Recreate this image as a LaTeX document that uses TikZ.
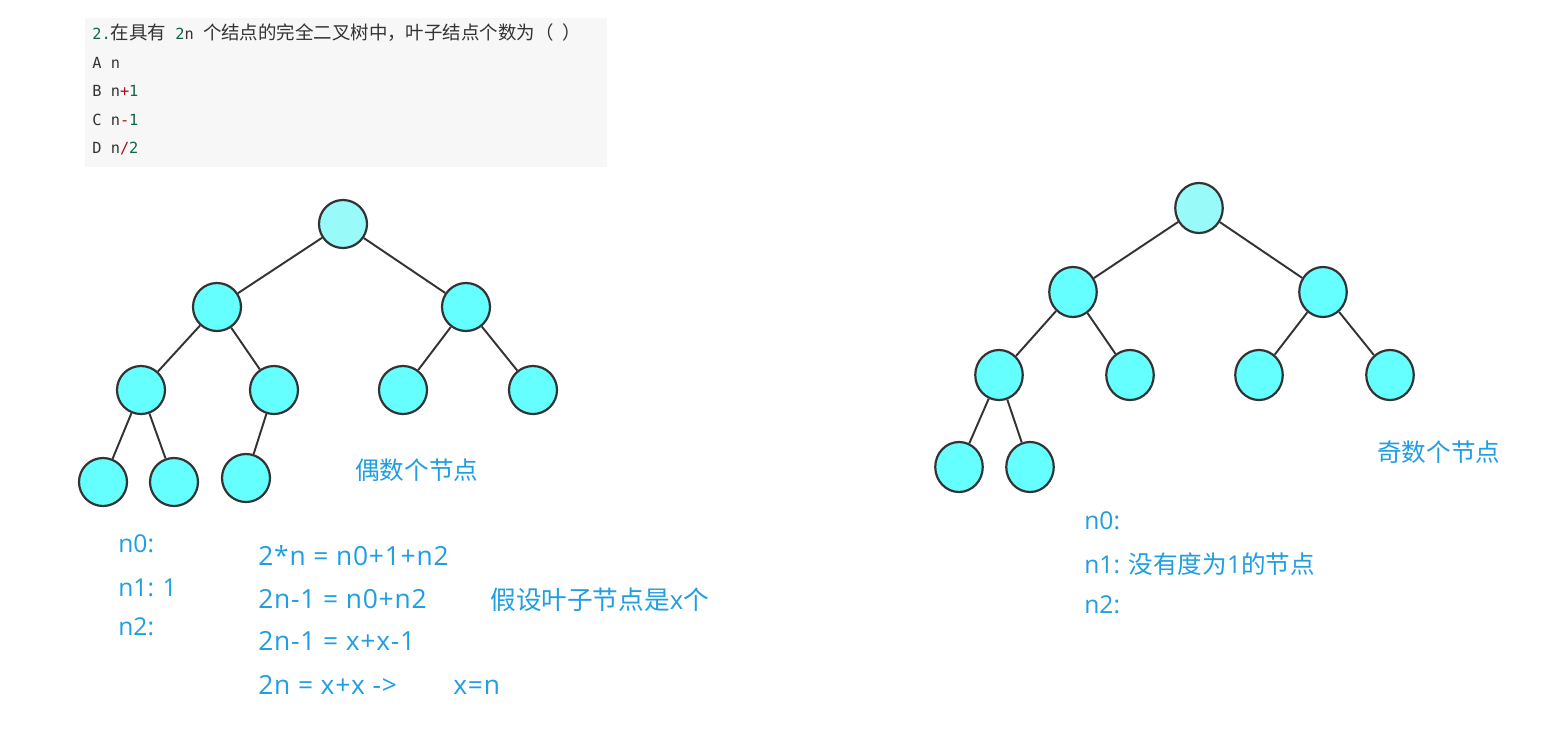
\documentclass[tikz,border=0pt]{standalone}
\definecolor{noteblue}{RGB}{32, 158, 226}
\definecolor{numgreen}{RGB}{17, 102, 68}
\definecolor{opred}{RGB}{170, 17, 17}
\definecolor{codegray}{RGB}{51, 51, 51}
\definecolor{boxgray}{RGB}{247, 247, 247}
\definecolor{nodecyan}{RGB}{102, 255, 255}
\definecolor{rootcyan}{RGB}{153, 250, 250}
\definecolor{edgegray}{RGB}{51, 51, 51}
\usepackage{fontspec}
\newfontfamily\cjkfont{Noto Sans CJK SC}
\newfontfamily\notefont{Open Sans}
\newfontfamily\codefont[Scale=0.83]{DejaVu Sans Mono}
\newcommand{\zh}[1]{{\cjkfont #1}}
\usepackage{tikz}
\usetikzlibrary{shapes.geometric}

\begin{document}
\begin{tikzpicture}[
    treenode/.style={circle, draw=edgegray, line width=1.25pt, fill=nodecyan, minimum size=0.96cm, inner sep=0pt},
    rootnode/.style={treenode, fill=rootcyan},
    oddnode/.style={ellipse, draw=edgegray, line width=1.25pt, fill=nodecyan, minimum width=0.95cm, minimum height=1.0cm, inner sep=0pt},
    oddroot/.style={oddnode, fill=rootcyan},
    edge/.style={draw=edgegray, line width=1.1pt},
    codeline/.style={anchor=base west, inner sep=0pt, text=codegray, font=\codefont\fontsize{10.5}{12}\selectfont},
    note/.style={anchor=base west, inner sep=0pt, text=noteblue, font=\notefont\fontsize{14}{16}\selectfont},
    eqline/.style={note, font=\notefont\fontsize{15}{17}\selectfont\addfontfeature{LetterSpace=3}}
  ]
  \useasboundingbox[fill=white] (0, 0) rectangle (31.06, -14.66);

  % Question box
  \node[fill=boxgray, inner sep=0pt, minimum width=10.44cm, minimum height=2.98cm, anchor=north west] (qbox) at (1.70, -0.36) {};
  \node[codeline] (qtext) at (1.84, -0.79) {{\color{numgreen}2.}\zh{在具有} {\color{numgreen}2}n \zh{个结点的完全二叉树中，叶子结点个数为（} \zh{）}};
  \node[codeline] (optA) at (1.84, -1.36) {A n};
  \node[codeline] (optB) at (1.84, -1.93) {B n{\color{opred}+}{\color{numgreen}1}};
  \node[codeline] (optC) at (1.84, -2.50) {C n{\color{opred}-}{\color{numgreen}1}};
  \node[codeline] (optD) at (1.84, -3.07) {D n{\color{opred}/}{\color{numgreen}2}};

  % Even tree
  \node[rootnode] (eroot) at (6.86, -4.48) {};
  \node[treenode] (ea) at (4.34, -6.14) {};
  \node[treenode] (eb) at (9.32, -6.14) {};
  \node[treenode] (ec) at (2.82, -7.80) {};
  \node[treenode] (ed) at (5.48, -7.80) {};
  \node[treenode] (ee) at (8.06, -7.80) {};
  \node[treenode] (ef) at (10.66, -7.80) {};
  \node[treenode] (eg) at (2.06, -9.64) {};
  \node[treenode] (eh) at (3.48, -9.64) {};
  \node[treenode] (ei) at (4.92, -9.56) {};
  \draw[edge] (eroot) -- (ea) (eroot) -- (eb)
    (ea) -- (ec) (ea) -- (ed) (eb) -- (ee) (eb) -- (ef)
    (ec) -- (eg) (ec) -- (eh) (ed) -- (ei);

  \node[note, anchor=west] (evenlabel) at (7.10, -9.40) {\zh{偶数个节点}};

  % Odd tree
  \node[oddroot] (oroot) at (23.98, -4.16) {};
  \node[oddnode] (oa) at (21.46, -5.84) {};
  \node[oddnode] (ob) at (26.46, -5.84) {};
  \node[oddnode] (oc) at (19.98, -7.50) {};
  \node[oddnode] (od) at (22.60, -7.50) {};
  \node[oddnode] (oe) at (25.18, -7.50) {};
  \node[oddnode] (of) at (27.80, -7.50) {};
  \node[oddnode] (og) at (19.18, -9.34) {};
  \node[oddnode] (oh) at (20.60, -9.34) {};
  \draw[edge] (oroot) -- (oa) (oroot) -- (ob)
    (oa) -- (oc) (oa) -- (od) (ob) -- (oe) (ob) -- (of)
    (oc) -- (og) (oc) -- (oh);

  \node[note, anchor=west] (oddlabel) at (27.54, -9.04) {\zh{奇数个节点}};

  % Even case working
  \node[note] (en0) at (2.36, -11.04) {n0:};
  \node[note] (en1) at (2.36, -11.92) {n1: 1};
  \node[note] (en2) at (2.36, -12.70) {n2:};
  \node[eqline] (eq1) at (5.16, -11.30) {2*n = n0+1+n2};
  \node[eqline] (eq2) at (5.16, -12.16) {2n-1 = n0+n2};
  \node[eqline] (eq3) at (5.16, -13.00) {2n-1 = x+x-1};
  \node[eqline] (eq4) at (5.16, -13.88) {2n = x+x ->};
  \node[eqline] (xeqn) at (9.06, -13.88) {x=n};
  \node[note, font=\notefont\fontsize{14.6}{16}\selectfont] (assume) at (9.80, -12.18) {\zh{假设叶子节点是}x\zh{个}};

  % Odd case working
  \node[note] (on0) at (21.68, -10.58) {n0:};
  \node[note] (on1) at (21.68, -11.46) {n1: \zh{没有度为}1\zh{的节点}};
  \node[note] (on2) at (21.68, -12.26) {n2:};
\end{tikzpicture}
\end{document}
